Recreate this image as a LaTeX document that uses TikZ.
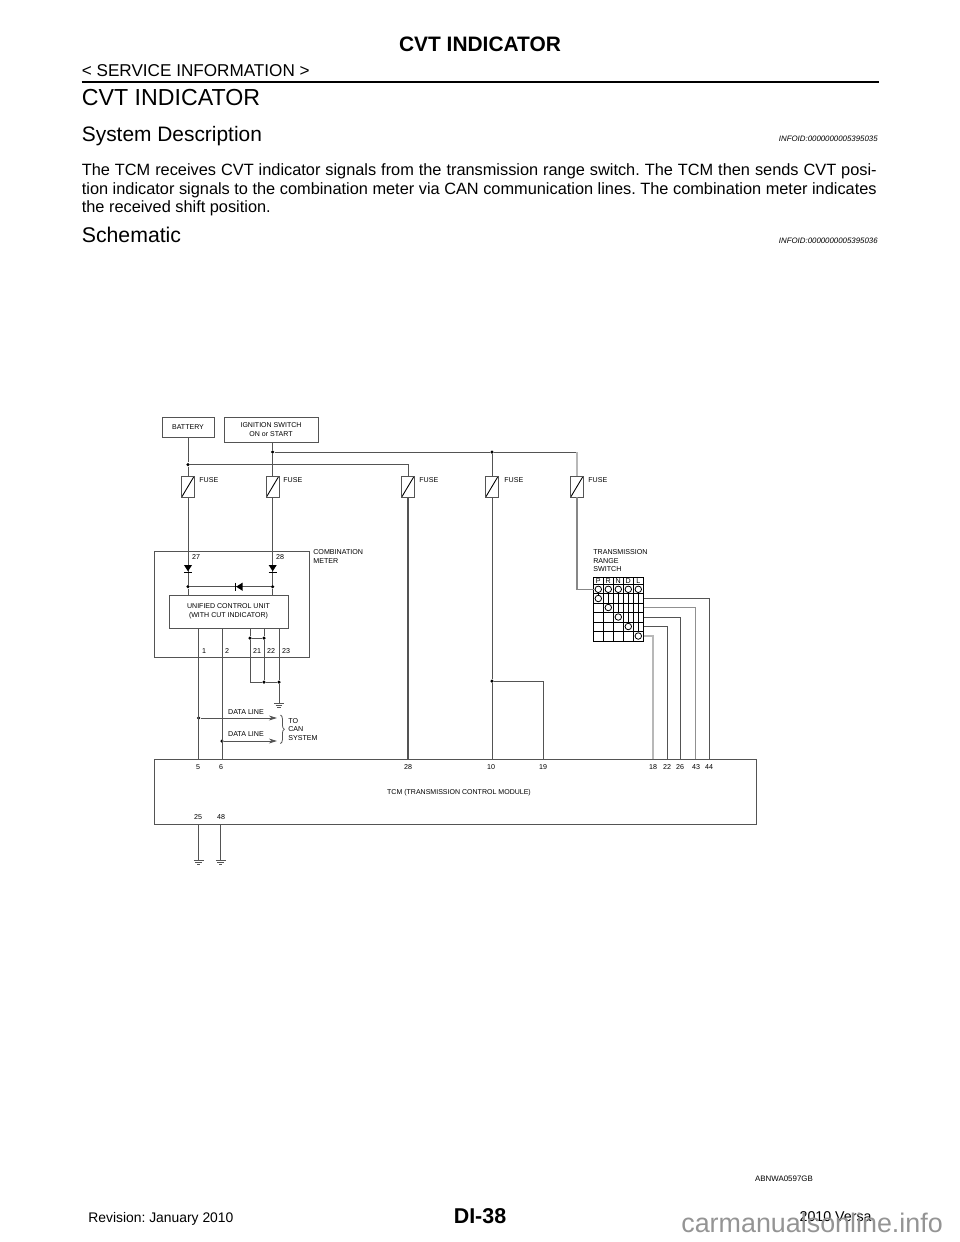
\documentclass[tikz,border=0pt]{standalone}
\usepackage{fontspec}
\setmainfont{Liberation Sans}
\usetikzlibrary{arrows.meta,decorations.pathreplacing}

\definecolor{wirecol}{gray}{0.33}
\definecolor{palewire}{gray}{0.72}

\tikzset{
  wire/.style={draw=wirecol, line width=0.55pt},
  palew/.style={draw=palewire, line width=0.7pt},
  box/.style={draw=wirecol, line width=0.55pt, fill=white, inner sep=0pt, align=center, font=\fontsize{4.0}{4.9}\selectfont},
  lab/.style={inner sep=0pt, font=\fontsize{4.05}{4.8}\selectfont, align=left},
  fuse/.style={draw=wirecol, line width=0.5pt, fill=white, minimum width=0.25cm, minimum height=0.42cm, inner sep=0pt,
    path picture={\draw[black, line width=0.5pt] (path picture bounding box.south west) -- (path picture bounding box.north east);}},
  dot/.style={circle, fill=black, inner sep=0pt, minimum size=0.07cm},
  sw/.style={circle, draw=black, line width=0.45pt, fill=white, inner sep=0pt, minimum size=0.13cm},
  head/.style={anchor=base west, inner sep=0pt},
  ground/.pic={
    \draw[wirecol, line width=0.45pt] (-2.8pt,0) -- (2.8pt,0);
    \draw[wirecol, line width=0.45pt] (-1.9pt,-1.3pt) -- (1.9pt,-1.3pt);
    \draw[wirecol, line width=0.45pt] (-0.9pt,-2.6pt) -- (0.9pt,-2.6pt);
  },
  diode/.pic={
    \fill[black] (-2.3pt,0) -- (2.3pt,0) -- (0,-3.6pt) -- cycle;
    \draw[black, line width=0.5pt] (-2.3pt,-4.2pt) -- (2.3pt,-4.2pt);
  }
}

\begin{document}
\frenchspacing
\begin{tikzpicture}[x=0.02cm, y=-0.02cm]
  \useasboundingbox (0,0) rectangle (960,1242);

  % Page header
  \node[anchor=base, inner sep=0pt, font=\fontsize{11.9}{14}\selectfont\bfseries] (title) at (480,51) {CVT INDICATOR};
  \node[head, font=\fontsize{9.75}{12}\selectfont] (section) at (81.5,76) {< SERVICE INFORMATION >};
  \coordinate (ruleL) at (81.5,82.3);
  \coordinate (ruleR) at (879,82.3);
  \draw[black, line width=1.1pt] (ruleL) -- (ruleR);
  \node[head, font=\fontsize{13.2}{16}\selectfont] (heading) at (81.5,105) {CVT INDICATOR};
  \node[head, font=\fontsize{11.9}{14}\selectfont] (sysdesc) at (81.5,141) {System Description};
  \node[head, font=\fontsize{12.1}{14}\selectfont] (schem) at (81.5,242.5) {Schematic};
  \node[anchor=base east, inner sep=0pt, font=\fontsize{4.47}{6}\selectfont\itshape] (info1) at (878,141) {INFOID:0000000005395035};
  \node[anchor=base east, inner sep=0pt, font=\fontsize{4.47}{6}\selectfont\itshape] (info2) at (878,243) {INFOID:0000000005395036};
  \node[anchor=north west, inner sep=0pt, text width=15.9cm, align=justify, font=\fontsize{9.3}{10.45}\selectfont] (body) at (81.5,163.5)
    {The TCM receives CVT indicator signals from the transmission range switch. The TCM then sends CVT posi-\linebreak
     tion indicator signals to the combination meter via CAN communication lines. The combination meter indicates\linebreak
     the received shift position.};

  % Supply boxes
  \node[box, minimum width=1.04cm, minimum height=0.4cm] (battery) at (188,427) {BATTERY};
  \node[box, minimum width=1.88cm, minimum height=0.5cm] (ignition) at (271,429.5) {IGNITION SWITCH\\ON or START};

  % Supply rails
  \node[dot] (jbat) at (188,464.5) {};
  \node[dot] (jign) at (272.7,452) {};
  \node[dot] (jmid) at (492,452) {};
  \coordinate (cbat) at (408,464.5);
  \coordinate (cign) at (577,452);

  % Fuses
  \node[fuse] (f1) at (188,486.5) {};
  \node[fuse] (f2) at (272.7,486.5) {};
  \node[fuse] (f3) at (408,486.5) {};
  \node[fuse] (f4) at (492,486.5) {};
  \node[fuse] (f5) at (577,486.5) {};
  \node[lab, anchor=west] (lf1) at (199,480) {FUSE};
  \node[lab, anchor=west] (lf2) at (283,480) {FUSE};
  \node[lab, anchor=west] (lf3) at (419,480) {FUSE};
  \node[lab, anchor=west] (lf4) at (504,480) {FUSE};
  \node[lab, anchor=west] (lf5) at (588,480) {FUSE};

  % Combination meter
  \node[box, minimum width=3.1cm, minimum height=2.12cm] (meter) at (231.5,604) {};
  \node[box, minimum width=2.38cm, minimum height=0.66cm] (ucu) at (228.5,611.5) {UNIFIED CONTROL UNIT\\(WITH CUT INDICATOR)};
  \node[lab, anchor=north west] (lmeter) at (313,549.5) {COMBINATION\\METER};
  \node[lab] (m27) at (196,557) {27};
  \node[lab] (m28) at (280,557) {28};
  \node[dot] (jl) at (188,586.7) {};
  \node[dot] (jr) at (272.7,586.7) {};
  \coordinate (dl) at (188,565);
  \coordinate (dr) at (272.7,565);
  \coordinate (dm) at (242.5,586.7);

  % TCM
  \node[box, minimum width=12.06cm, minimum height=1.3cm] (tcm) at (455.5,791.5) {};
  \node[inner sep=0pt, font=\fontsize{4.0}{5}\selectfont] (ltcm) at (459,792.5) {TCM (TRANSMISSION CONTROL MODULE)};
  \node[lab] (t5) at (198,767) {5};
  \node[lab] (t6) at (221,767) {6};
  \node[lab] (t28) at (408,767) {28};
  \node[lab] (t10) at (491,767) {10};
  \node[lab] (t19) at (543,767) {19};
  \node[lab] (t18) at (653,767) {18};
  \node[lab] (t22) at (667,767) {22};
  \node[lab] (t26) at (680,767) {26};
  \node[lab] (t43) at (696,767) {43};
  \node[lab] (t44) at (709,767) {44};
  \node[lab] (t25) at (198,817) {25};
  \node[lab] (t48) at (221,817) {48};

  % Wires from the supplies
  \draw[wire] (battery) -- (jbat) -- (f1);
  \draw[wire] (f1) -- (jl);
  \draw[wire] (jl) -- (jl |- ucu.north);
  \draw[wire] (jign |- ignition.south) -- (jign) -- (f2);
  \draw[wire] (f2) -- (jr);
  \draw[wire] (jr) -- (jr |- ucu.north);
  \draw[wire] (jl) -- (jr);
  \draw[wire] (jbat) -- (cbat) -- (f3);
  \draw[wire, line width=0.8pt] (f3) -- (f3 |- tcm.north);
  \draw[wire] (jign) -- (jmid) -- (cign);
  \draw[palew] (cign) -- (f5);
  \draw[wire] (jmid) -- (f4);

  % Diodes
  \pic at (dl) {diode};
  \pic at (dr) {diode};
  \pic[rotate=-90] at (dm) {diode};

  % Wires below the unit
  \node[lab] (m1) at (204,651) {1};
  \node[lab] (m2) at (227,651) {2};
  \node[lab] (m21) at (257,651) {21};
  \node[lab] (m22) at (271,651) {22};
  \node[lab] (m23) at (286,651) {23};
  \node[dot] (ja) at (250,638) {};
  \node[dot] (jb) at (264,638) {};
  \coordinate (ca) at (250,682);
  \node[dot] (jc) at (264,682) {};
  \node[dot] (jd) at (279,682) {};
  \coordinate (g1) at (279,703);
  \draw[wire] (ja |- ucu.south) -- (ja) -- (ca) -- (jc) -- (jd);
  \draw[wire] (jb |- ucu.south) -- (jb) -- (jc);
  \draw[wire] (ja) -- (jb);
  \draw[wire] (jd |- ucu.south) -- (jd) -- (g1);
  \pic at (g1) {ground};

  % Data lines
  \node[dot] (jd1) at (198.7,718) {};
  \node[dot] (jd2) at (222,741) {};
  \coordinate (a1) at (277,718);
  \coordinate (a2) at (277,741);
  \draw[wire] (jd1 |- ucu.south) -- (jd1 |- tcm.north);
  \draw[wire] (jd2 |- ucu.south) -- (jd2 |- tcm.north);
  \draw[wire, -{Stealth[length=4.6pt,width=2.8pt]}] (jd1) -- (a1);
  \draw[wire, -{Stealth[length=4.6pt,width=2.8pt]}] (jd2) -- (a2);
  \node[lab] (ld1) at (246,712) {DATA LINE};
  \node[lab] (ld2) at (246,734.5) {DATA LINE};
  \coordinate (b1) at (280.5,715);
  \coordinate (b2) at (280.5,743.5);
  \draw[wire, line width=0.45pt, decorate, decoration={brace, amplitude=2.2pt}] (b1) -- (b2);
  \node[lab, anchor=west] (lcan) at (288,729.5) {TO\\CAN\\SYSTEM};

  % Ground wires of the TCM
  \coordinate (g2) at (198.7,860);
  \coordinate (g3) at (220.7,860);
  \draw[wire] (g2 |- tcm.south) -- (g2);
  \draw[wire] (g3 |- tcm.south) -- (g3);
  \pic at (g2) {ground};
  \pic at (g3) {ground};

  % Wire 10 and 19
  \node[dot] (j10) at (492,681) {};
  \coordinate (c19) at (543,681);
  \draw[wire] (f4) -- (j10) -- (j10 |- tcm.north);
  \draw[wire] (j10) -- (c19) -- (c19 |- tcm.north);

  % Transmission range switch
  \node[lab, anchor=north west] (lsw) at (593,549.5) {TRANSMISSION\\RANGE\\SWITCH};
  \node[draw=black, line width=0.45pt, inner sep=0pt, minimum width=1cm, minimum height=1.28cm] (range) at (618.3,609) {};
  \foreach \x in {603.3,613.3,623.3,633.3}
    \draw[black, line width=0.45pt] (\x,577) -- (\x,641);
  \foreach \y in {584,593.5,603,612.5,622,631.5}
    \draw[black, line width=0.45pt] (593.3,\y) -- (643.3,\y);
  \node[lab] (lp) at (598.3,580.7) {P};
  \node[lab] (lr) at (608.3,580.7) {R};
  \node[lab] (ln) at (618.3,580.7) {N};
  \node[lab] (ld) at (628.3,580.7) {D};
  \node[lab] (ll) at (638.3,580.7) {L};
  \coordinate (c5) at (577,589.3);
  \node[sw] (p1) at (598.3,589.3) {};
  \node[sw] (p2) at (598.3,598.5) {};
  \node[sw] (r1) at (608.3,589.3) {};
  \node[sw] (r3) at (608.3,607.5) {};
  \node[sw] (n1) at (618.3,589.3) {};
  \node[sw] (n4) at (618.3,617) {};
  \node[sw] (d1) at (628.3,589.3) {};
  \node[sw] (d5) at (628.3,626.5) {};
  \node[sw] (l1) at (638.3,589.3) {};
  \node[sw] (l6) at (638.3,636) {};
  \draw[palew, draw=wirecol!70] (f5) -- (c5) -- (p1);
  \draw[black, line width=0.45pt] (p1) -- (p2);
  \draw[black, line width=0.45pt] (r1) -- (r3);
  \draw[black, line width=0.45pt] (n1) -- (n4);
  \draw[black, line width=0.45pt] (d1) -- (d5);
  \draw[black, line width=0.45pt] (l1) -- (l6);

  % Wires from the switch to the TCM
  \coordinate (s44) at (709,598);
  \coordinate (s43) at (695.5,607.5);
  \coordinate (s26) at (680,617);
  \coordinate (s22) at (667,626.5);
  \coordinate (s18) at (653,636);
  \draw[wire] (s44 -| range.east) -- (s44) -- (s44 |- tcm.north);
  \draw[wire, draw=wirecol!65] (s43 -| range.east) -- (s43) -- (s43 |- tcm.north);
  \draw[wire] (s26 -| range.east) -- (s26) -- (s26 |- tcm.north);
  \draw[wire] (s22 -| range.east) -- (s22) -- (s22 |- tcm.north);
  \draw[palew] (s18 -| range.east) -- (s18) -- (s18 |- tcm.north);

  % Page footer
  \node[inner sep=0pt, font=\fontsize{4.5}{5}\selectfont] (figid) at (784,1179) {ABNWA0597GB};
  \node[head, font=\fontsize{7.9}{10}\selectfont] (rev) at (88,1222.5) {Revision: January 2010};
  \node[anchor=base, inner sep=0pt, font=\fontsize{12.2}{14}\selectfont\bfseries] (page) at (480,1223) {DI-38};
  \node[anchor=base east, inner sep=0pt, font=\fontsize{8.1}{10}\selectfont] (model) at (872,1221.5) {2010 Versa};
  \node[head, text=black!42, font=\fontsize{15.3}{18}\selectfont] (mark) at (681,1232.5) {carmanualsonline.info};
\end{tikzpicture}
\end{document}
